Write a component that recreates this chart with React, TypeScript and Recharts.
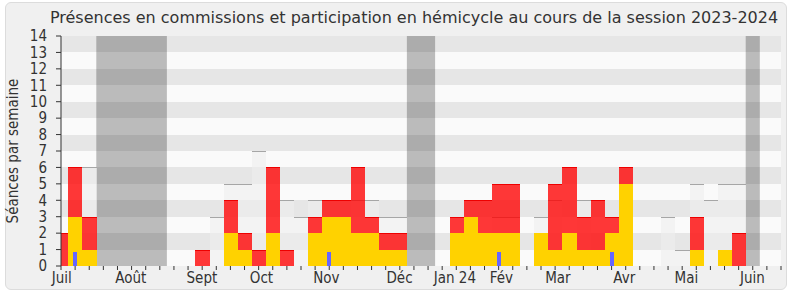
import {
  Bar,
  CartesianGrid,
  ComposedChart,
  ReferenceArea,
  XAxis,
  YAxis,
} from "recharts";

// one entry per week, from the first week of July 2023 to the end of June 2024
const weeks = [
  0, 1, 2, 3, 4, 5, 6, 7, 8, 9, 10, 11, 12, 13, 14, 15, 16, 17, 18, 19, 20, 21,
  22, 23, 24, 25, 26, 27, 28, 29, 30, 31, 32, 33, 34, 35, 36, 37, 38, 39, 40,
  41, 42, 43, 44, 45, 46, 47, 48, 49, 50, 51,
];

const commission = [
  0, 3, 1, 0, 0, 0, 0, 0, 0, 0, 0, 0, 2, 1, 0, 2, 0, 0, 2, 3, 3, 2, 2, 1, 1, 0,
  0, 0, 2, 3, 2, 2, 2, 0, 2, 1, 2, 1, 1, 2, 5, 0, 0, 0, 0, 1, 0, 1, 0, 0, 0, 0,
];

const hemicycle = [
  2, 3, 2, 0, 0, 0, 0, 0, 0, 0, 1, 0, 2, 1, 1, 4, 1, 0, 1, 1, 1, 4, 1, 1, 1, 0,
  0, 0, 1, 1, 2, 3, 3, 0, 0, 4, 4, 2, 3, 1, 1, 0, 0, 0, 0, 2, 0, 0, 2, 0, 0, 0,
];

const questions = [
  0, 0.85, 0, 0, 0, 0, 0, 0, 0, 0, 0, 0, 0, 0, 0, 0, 0, 0, 0, 0.85, 0, 0, 0, 0,
  0, 0, 0, 0, 0, 0, 0, 0.85, 0, 0, 0, 0, 0, 0, 0, 0.85, 0, 0, 0, 0, 0, 0, 0, 0,
  0, 0, 0, 0,
];

const median = [
  0, 0, 6, 0, 0, 0, 0, 0, 0, 0, 0, 3, 5, 5, 7, 0, 4, 3, 4, 0, 0, 4, 4, 3, 3, 0,
  0, 0, 0, 0, 0, 3, 3, 0, 3, 4, 0, 4, 0, 0, 0, 0, 0, 3, 1, 5, 4, 5, 5, 0, 0, 0,
];

// holidays, in weeks
const vacations = [
  [2.5, 7.5],
  [24.5, 26.5],
  [48.5, 49.5],
];

const months = ["Juil", "Août", "Sept", "Oct", "Nov", "Déc", "Jan 24", "Fév", "Mar", "Avr", "Mai", "Juin"];
const monthPos = [0.05, 4.95, 9.98, 14.2, 18.8, 23.98, 27.9, 31.2, 35.2, 39.9, 44.3, 48.97];

const yTicks = [0, 1, 2, 3, 4, 5, 6, 7, 8, 9, 10, 11, 12, 13, 14];

const data = weeks.map((w, i) => ({
  week: w,
  commission: commission[i],
  hemicycle: hemicycle[i],
  questions: questions[i] || null,
  median: median[i] || null,
}));

const FONT = "'DejaVu Sans Condensed', 'DejaVu Sans', sans-serif";
const TITLE_FONT = "'DejaVu Sans', sans-serif";
const INK = "#333333";
const W = 790;
const H = 300;
const M = { top: 36, right: 9, bottom: 10, left: 0 };
const Y_W = 61;
const X_H = 24;
const AXIS_Y = H - M.bottom - X_H;
const bandWidth = (W - M.right - Y_W) / (weeks.length - 1);

// snap a week's bar to whole pixels so neighbours touch without seams
function snap(x: number, width: number) {
  const cx = x + width / 2;
  const x0 = Math.round(cx - bandWidth / 2);
  const x1 = Math.round(cx + bandWidth / 2);
  return [x0, x1 - x0];
}

function MedianShape(props: any) {
  const { x, y, width, height } = props;
  if (!height || height <= 0) return <g />;
  const [x0, w] = snap(x, width);
  const top = Math.round(y);
  return (
    <g shapeRendering="crispEdges">
      <rect x={x0} y={top} width={w} height={height} fill="#eeeeee" fillOpacity={0.6} />
      <line x1={x0} x2={x0 + w} y1={top + 0.5} y2={top + 0.5} stroke="#a6a6a6" strokeWidth={1} />
    </g>
  );
}

function RedShape(props: any) {
  const { x, y, width, height } = props;
  if (!height || height <= 0) return <g />;
  const [x0, w] = snap(x, width);
  const top = Math.round(y);
  const bottom = Math.round(y + height);
  return (
    <g shapeRendering="crispEdges">
      <rect x={x0} y={top} width={w} height={bottom - top} fill="#ff0000" fillOpacity={0.78} />
      <line x1={x0} x2={x0 + w} y1={top + 0.5} y2={top + 0.5} stroke="#ee0000" strokeWidth={1} />
    </g>
  );
}

function YellowShape(props: any) {
  const { x, y, width, height } = props;
  if (!height || height <= 0) return <g />;
  const [x0, w] = snap(x, width);
  const top = Math.round(y);
  const bottom = Math.round(y + height);
  return <rect x={x0} y={top} width={w} height={bottom - top} fill="#ffd200" shapeRendering="crispEdges" />;
}

function BlueShape(props: any) {
  const { x, y, width, height } = props;
  if (!height || height <= 0) return <g />;
  const x0 = Math.round(x);
  const top = Math.round(y);
  const bottom = Math.round(y + height);
  return (
    <rect
      x={x0}
      y={top}
      width={Math.round(width)}
      height={bottom - top}
      fill="#6666ff"
      shapeRendering="crispEdges"
    />
  );
}

function WeekTick(props: any) {
  const { x, payload } = props;
  const idx = monthPos.indexOf(payload.value);
  if (idx >= 0) {
    return (
      <text x={x} y={AXIS_Y + 17} textAnchor="middle" fill={INK} fontSize={15} fontFamily={FONT}>
        {months[idx]}
      </text>
    );
  }
  return <line x1={x} x2={x} y1={AXIS_Y} y2={AXIS_Y + 4} stroke={INK} strokeWidth={1} />;
}

export default function App() {
  return (
    <div style={{ position: "absolute", left: 0, top: 0, width: W, height: H, background: "#fff", fontFamily: FONT }}>
      <div
        style={{
          position: "absolute",
          left: 5,
          top: 2,
          width: 780,
          height: 286,
          background: "#f0f0f0",
          border: "1px solid #dcdcdc",
          borderRadius: 6,
        }}
      />
      <div
        style={{
          position: "absolute",
          left: 414,
          top: 7,
          transform: "translateX(-50%)",
          whiteSpace: "nowrap",
          fontSize: 16,
          fontFamily: TITLE_FONT,
          color: INK,
          lineHeight: "22px",
        }}
      >
        Présences en commissions et participation en hémicycle au cours de la session 2023-2024
      </div>
      <div style={{ position: "absolute", left: 0, top: 0 }}>
        <ComposedChart width={W} height={H} data={data} margin={M} barCategoryGap={0} barGap={0}>
          <CartesianGrid
            xAxisId="weeks"
            vertical={false}
            stroke="none"
            horizontalFill={["#e6e6e6", "#fafafa"]}
            fillOpacity={1}
          />
          <XAxis
            xAxisId="weeks"
            type="number"
            dataKey="week"
            domain={[0, 51]}
            allowDataOverflow
            ticks={[...weeks, ...monthPos]}
            interval={0}
            height={X_H}
            tickSize={4}
            tickMargin={0}
            tickLine={false}
            tick={<WeekTick />}
            axisLine={{ stroke: INK }}
          />
          <XAxis xAxisId="med" type="number" dataKey="week" domain={[0, 51]} allowDataOverflow hide />
          <XAxis xAxisId="q" type="number" dataKey="week" domain={[0, 51]} allowDataOverflow hide />
          <XAxis
            xAxisId="top"
            orientation="top"
            type="number"
            dataKey="week"
            domain={[0, 51]}
            ticks={weeks}
            interval={0}
            height={0}
            tick={false}
            tickSize={2}
            tickLine={{ stroke: INK }}
            axisLine={false}
          />
          <YAxis
            domain={[0, 14]}
            ticks={yTicks}
            interval={0}
            width={Y_W}
            tickSize={5}
            tickMargin={9}
            tick={{ fill: INK, fontSize: 15, fontFamily: FONT }}
            tickLine={{ stroke: INK }}
            axisLine={{ stroke: INK }}
            label={{
              content: () => (
                <text
                  x={18}
                  y={151}
                  transform="rotate(-90, 18, 151)"
                  textAnchor="middle"
                  fill={INK}
                  fontSize={15}
                  fontFamily={FONT}
                >
                  Séances par semaine
                </text>
              ),
            }}
          />
          {vacations.map(([a, b], i) => (
            <ReferenceArea
              key={i}
              xAxisId="weeks"
              x1={a}
              x2={b}
              y1={0}
              y2={14}
              fill="#000000"
              fillOpacity={0.25}
              stroke="none"
            />
          ))}
          <Bar xAxisId="med" dataKey="median" barSize={bandWidth} shape={MedianShape} isAnimationActive={false} />
          <Bar
            xAxisId="weeks"
            dataKey="commission"
            stackId="s"
            barSize={bandWidth}
            shape={YellowShape}
            isAnimationActive={false}
          />
          <Bar
            xAxisId="weeks"
            dataKey="hemicycle"
            stackId="s"
            barSize={bandWidth}
            shape={RedShape}
            isAnimationActive={false}
          />
          <Bar xAxisId="q" dataKey="questions" barSize={4} shape={BlueShape} isAnimationActive={false} />
        </ComposedChart>
      </div>
    </div>
  );
}
